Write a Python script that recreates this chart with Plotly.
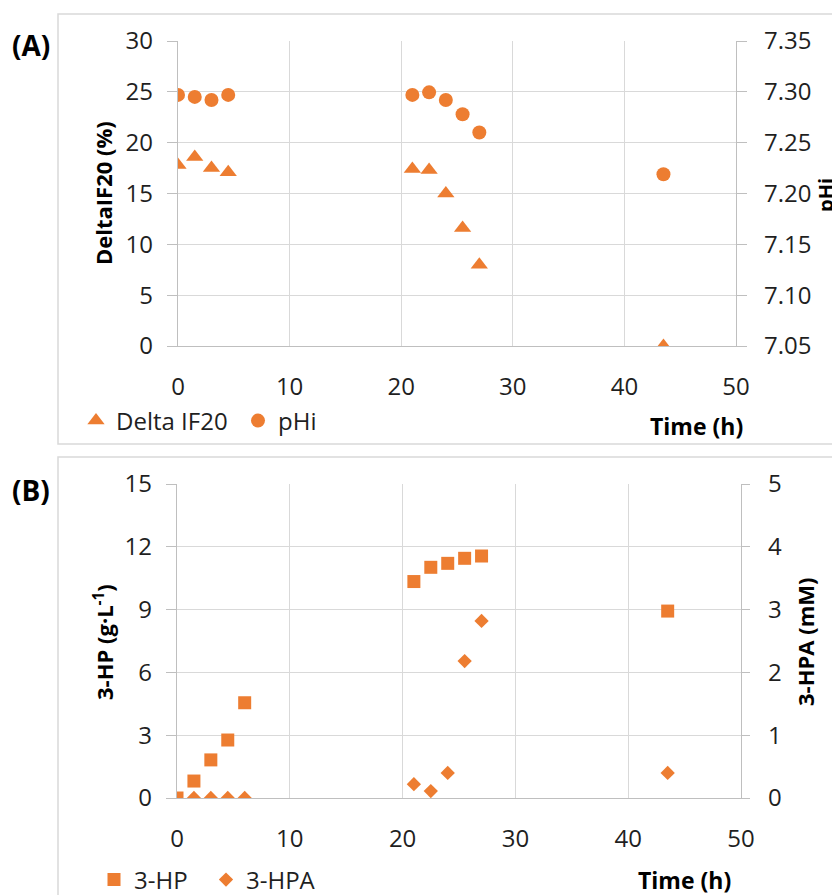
import plotly.graph_objects as go

# ---------------- data ----------------
# Panel A
time_delta = [0, 1.5, 3, 4.5, 21, 22.5, 24, 25.5, 27, 43.5]
delta_if20 = [17.8, 18.6, 17.5, 17.1, 17.4, 17.3, 15.0, 11.6, 8.0, 0.0]
time_phi = [0, 1.5, 3, 4.5, 21, 22.5, 24, 25.5, 27, 43.5]
phi = [7.297, 7.295, 7.292, 7.297, 7.297, 7.2995, 7.292, 7.278, 7.260, 7.219]

# Panel B
time_hp = [0, 1.5, 3, 4.5, 6, 21, 22.5, 24, 25.5, 27, 43.5]
hp = [0.0, 0.81, 1.82, 2.77, 4.55, 10.34, 11.02, 11.21, 11.45, 11.56, 8.93]
time_hpa = [1.5, 3, 4.5, 6, 21, 22.5, 24, 25.5, 27, 43.5]
hpa = [0.0, 0.0, 0.0, 0.0, 0.22, 0.11, 0.40, 2.18, 2.82, 0.40]

x_ticks = [0, 10, 20, 30, 40, 50]

ORANGE = "#ED7D31"
GRID = "#d9d9d9"
AXIS = "#bfbfbf"
TXT = "#1f1f1f"
FONT = "Open Sans"
W, H = 832, 895
OFF = 8  # page body margin


def px(x):
    return (x - OFF) / W


def py(y):
    return 1 - (y - OFF) / H


fig = go.Figure()

fig.add_trace(go.Scatter(x=time_delta, y=delta_if20, mode="markers", name="Delta IF20",
                         marker=dict(symbol="triangle-up", size=15, color=ORANGE),
                         xaxis="x", yaxis="y", legend="legend"))
fig.add_trace(go.Scatter(x=time_phi, y=phi, mode="markers", name="pHi",
                         marker=dict(symbol="circle", size=14, color=ORANGE),
                         xaxis="x", yaxis="y2", legend="legend"))
fig.add_trace(go.Scatter(x=time_hp, y=hp, mode="markers", name="3-HP",
                         marker=dict(symbol="square", size=13, color=ORANGE),
                         xaxis="x2", yaxis="y3", legend="legend2"))
fig.add_trace(go.Scatter(x=time_hpa, y=hpa, mode="markers", name="3-HPA",
                         marker=dict(symbol="diamond", size=11, color=ORANGE),
                         xaxis="x2", yaxis="y4", legend="legend2"))

tickfont = dict(family=FONT, size=24, color=TXT)

xcommon = dict(range=[0, 50], tickvals=x_ticks, showgrid=True, gridcolor=GRID, gridwidth=1.3,
               showline=True, linecolor=AXIS, linewidth=1.3, zeroline=False, ticks="",
               tickfont=tickfont, ticklabelstandoff=19, fixedrange=True, automargin=False)

ycommon = dict(zeroline=False, showline=True, linecolor=AXIS, linewidth=1.3,
               ticks="outside", tickcolor=AXIS, tickwidth=1.3, tickfont=tickfont,
               automargin=False, fixedrange=True)

fig.update_layout(
    width=W, height=H, autosize=False,
    margin=dict(l=0, r=0, t=0, b=0, pad=0, autoexpand=False),
    paper_bgcolor="white", plot_bgcolor="white",
    font=dict(family=FONT, color=TXT),
    xaxis=dict(domain=[px(178), px(736)], anchor="y", **xcommon),
    yaxis=dict(domain=[py(346), py(41)], anchor="x", range=[0, 30], dtick=5,
               showgrid=True, gridcolor=GRID, gridwidth=1.3, ticklen=10,
               ticklabelstandoff=9, **ycommon),
    yaxis2=dict(overlaying="y", side="right", anchor="x", range=[7.05, 7.35], dtick=0.05,
                tickformat=".2f", showgrid=False, ticklen=10, ticklabelstandoff=12, **ycommon),
    xaxis2=dict(domain=[px(177), px(741)], anchor="y3", **xcommon),
    yaxis3=dict(domain=[py(798), py(484)], anchor="x2", range=[0, 15], dtick=3,
                showgrid=True, gridcolor=GRID, gridwidth=1.3, ticklen=10,
                ticklabelstandoff=9, **ycommon),
    yaxis4=dict(overlaying="y3", side="right", anchor="x2", range=[0, 5], dtick=1,
                showgrid=False, ticklen=8, ticklabelstandoff=13, **ycommon),
    legend=dict(orientation="h", x=px(76), y=py(421), xanchor="left", yanchor="middle",
                font=dict(family=FONT, size=24, color=TXT), bgcolor="rgba(0,0,0,0)",
                entrywidth=117, entrywidthmode="pixels", itemclick=False),
    legend2=dict(orientation="h", x=px(94), y=py(880), xanchor="left", yanchor="middle",
                 font=dict(family=FONT, size=24, color=TXT), bgcolor="rgba(0,0,0,0)",
                 entrywidth=67, entrywidthmode="pixels", itemclick=False),
    showlegend=True,
)

# panel frames
for (x0, y0, x1, y1) in [(58, 14, 870, 444), (58, 457, 870, 925)]:
    fig.add_shape(type="rect", xref="paper", yref="paper",
                  x0=px(x0), x1=px(x1), y0=py(y1), y1=py(y0),
                  line=dict(color=GRID, width=1.5), fillcolor="rgba(0,0,0,0)", layer="below")

bold = dict(family=FONT, size=22, color="#000000")
annots = [
    dict(text="<b>(A)</b>", x=px(31), y=py(45), font=dict(family=FONT, size=28, color="#000")),
    dict(text="<b>(B)</b>", x=px(31), y=py(490), font=dict(family=FONT, size=28, color="#000")),
    dict(text="<b>DeltaIF20 (%)</b>", x=px(103), y=py(193), textangle=-90, font=bold),
    dict(text="<b>pHi</b>", x=px(826), y=py(195), textangle=-90,
         font=dict(family=FONT, size=20, color="#000")),
    dict(text="<b>Time (h)</b>", x=px(696), y=py(426), font=dict(family=FONT, size=23, color="#000")),
    dict(text="<b>3-HP (g·L<sup>-1</sup>)</b>", x=px(103), y=py(642), textangle=-90, font=bold),
    dict(text="<b>3-HPA (mM)</b>", x=px(805), y=py(642), textangle=-90, font=bold),
    dict(text="<b>Time (h)</b>", x=px(684), y=py(880), font=dict(family=FONT, size=23, color="#000")),
]
for a in annots:
    fig.add_annotation(xref="paper", yref="paper", showarrow=False,
                       xanchor="center", yanchor="middle", **a)

fig.write_html("out.html")
